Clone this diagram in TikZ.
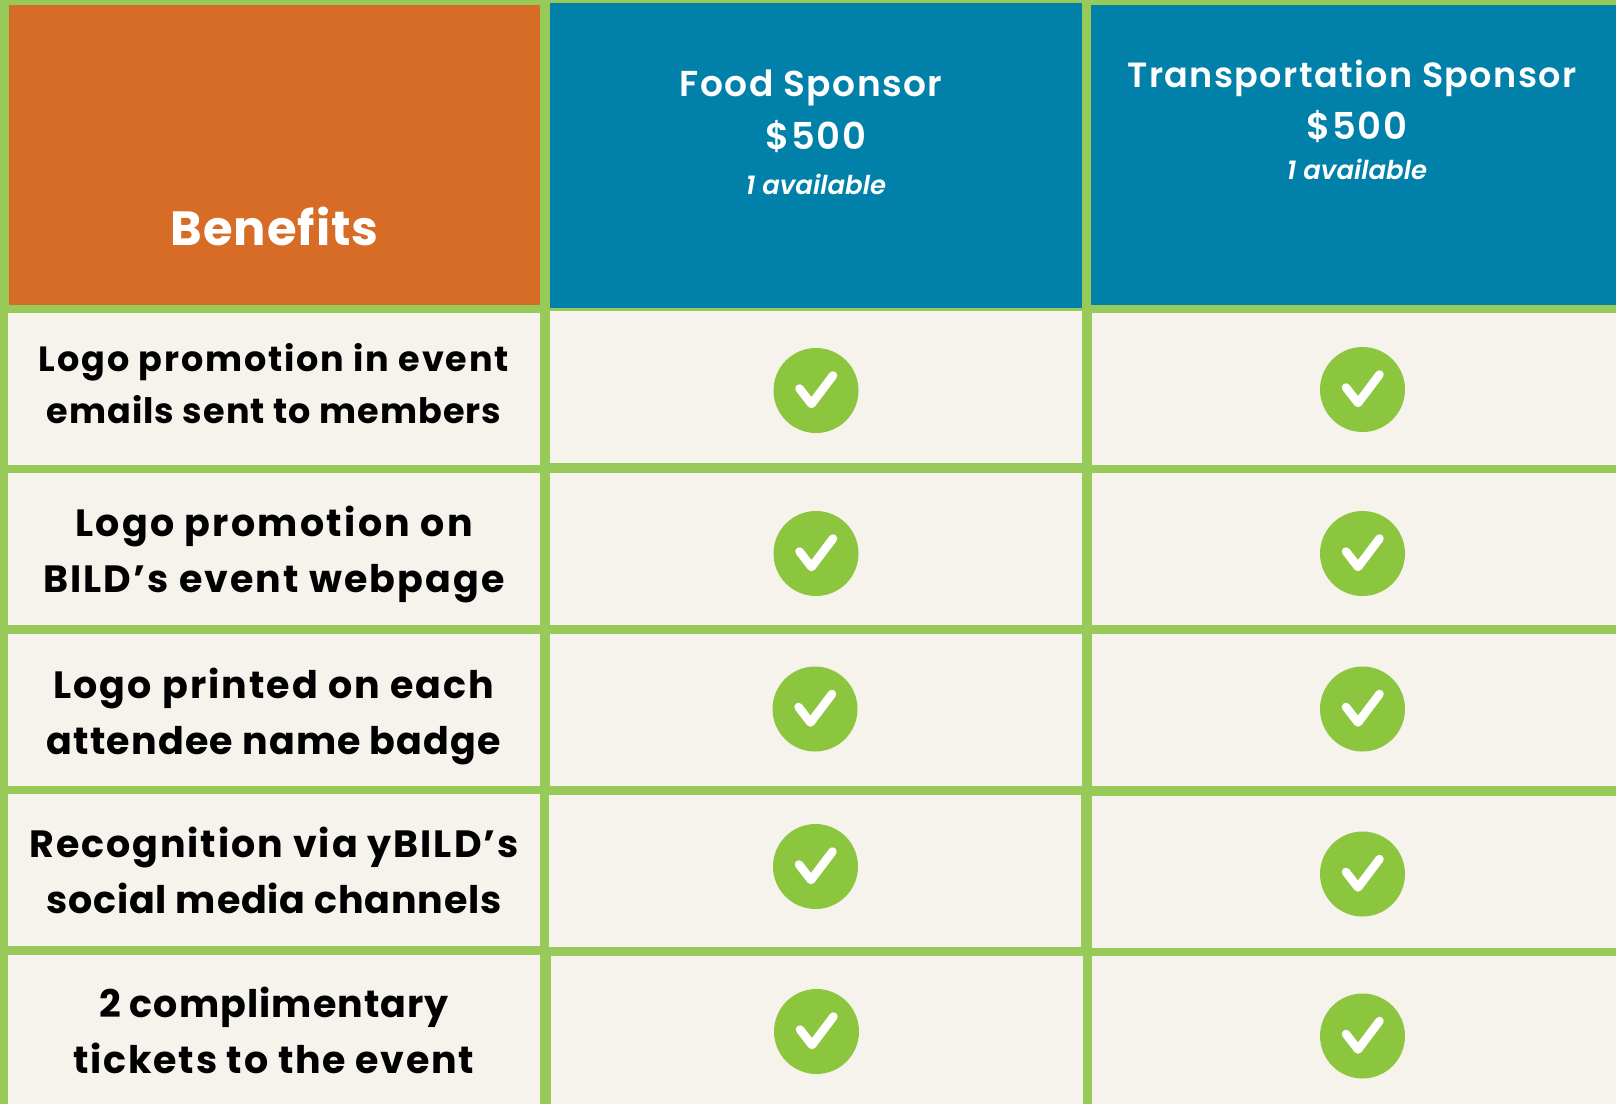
\documentclass[tikz,border=0pt]{standalone}
\usepackage{fontspec}
\setmainfont{Poppins}[BoldFont={Poppins SemiBold},ItalicFont={Poppins Italic},BoldItalicFont={Poppins SemiBold Italic}]
\newfontfamily\rowfont{Poppins Bold}
\newfontfamily\headfont[LetterSpace=4]{Poppins SemiBold}
\newfontfamily\benefitfont[LetterSpace=2.2]{Poppins Bold}
\newcommand{\ls}[1]{\addfontfeature{LetterSpace=#1}}
\definecolor{gridgreen}{HTML}{97CA58}
\definecolor{tickgreen}{HTML}{8CC63F}
\definecolor{cellcream}{HTML}{F5F3EC}
\definecolor{headorange}{HTML}{D76C27}
\definecolor{headblue}{HTML}{0181A9}
\tikzset{
  x=1pt,y=-1pt,
  cellbox/.style={fill=cellcream,draw=none},
  orangebox/.style={fill=headorange,draw=none},
  bluebox/.style={fill=headblue,draw=none},
  rowlabel/.style={align=center,font=\fontsize{38}{55.5}\rowfont,text=black,inner sep=0pt},
  headlabel/.style={align=center,text=white,inner sep=0pt},
  tickdisc/.style={circle,fill=tickgreen,draw=none,minimum size=85pt,inner sep=0pt},
  tickmark/.style={draw=white,line width=8.5pt,line cap=round,line join=round},
}
\newcommand{\tick}[3]{%
  \node[tickdisc] (#1) at (#2,#3) {};
  \draw[tickmark] ([shift={(-16.5,-2)}]#1.center) -- ([shift={(-4.5,13.5)}]#1.center) -- ([shift={(17,-15)}]#1.center);
}
\begin{document}
\begin{tikzpicture}
\useasboundingbox (0,0) rectangle (1616,1104);
\fill[gridgreen] (0,0) rectangle (1616,1104);
% header
\fill[orangebox] (9,5) rectangle (540,305);
\fill[bluebox] (550,3) rectangle (1082,308);
\fill[bluebox] (1091,5) rectangle (1616,305);
% col 1
\fill[cellbox] (8,313) rectangle (540,465);
\fill[cellbox] (8,473) rectangle (540,625);
\fill[cellbox] (8,634) rectangle (540,786);
\fill[cellbox] (8,794) rectangle (540,946);
\fill[cellbox] (8,955) rectangle (540,1104);
% col 2
\fill[cellbox] (550,311) rectangle (1082,463);
\fill[cellbox] (550,473) rectangle (1082,625);
\fill[cellbox] (550,634) rectangle (1082,786);
\fill[cellbox] (549,795) rectangle (1081,947);
\fill[cellbox] (551,956) rectangle (1083,1104);
% col 3
\fill[cellbox] (1092,313) rectangle (1616,465);
\fill[cellbox] (1092,473) rectangle (1616,625);
\fill[cellbox] (1092,634) rectangle (1616,786);
\fill[cellbox] (1092,796) rectangle (1616,948);
\fill[cellbox] (1092,956) rectangle (1616,1104);
% header text
\node[headlabel,font=\fontsize{48}{48}\benefitfont] (benefits) at (274.5,226) {Benefits};
\node[headlabel,font=\fontsize{36}{36}\headfont] (food) at (811,88) {Food Sponsor};
\node[headlabel,font=\fontsize{37}{37}\headfont] (foodprice) at (816,137) {\$500};
\node[headlabel,font=\fontsize{26}{26}\selectfont\bfseries\itshape] (foodavail) at (816,184) {1 available};
\node[headlabel,font=\fontsize{35}{35}\headfont] (trans) at (1352,78) {Transportation Sponsor};
\node[headlabel,font=\fontsize{37}{37}\headfont] (transprice) at (1357,127) {\$500};
\node[headlabel,font=\fontsize{26}{26}\selectfont\bfseries\itshape] (transavail) at (1357,169) {1 available};
% row text
\node[rowlabel,font=\fontsize{35}{52}\rowfont] (r1) at (274,384) {\ls{5.3}Logo promotion in event\\\ls{3}emails sent to members};
\node[rowlabel] (r2) at (274,554.5) {\ls{6}Logo promotion on\\\ls{5.5}BILD’s event webpage};
\node[rowlabel] (r3) at (274,716.5) {\ls{5.5}Logo printed on each\\\ls{3}attendee name badge};
\node[rowlabel] (r4) at (274,870.5) {\ls{5.1}Recognition via yBILD’s\\\ls{2.1}social media channels};
\node[rowlabel] (r5) at (274,1030.5) {\ls{2.7}2 complimentary\\\ls{4.5}tickets to the event};
% ticks
\tick{a}{816}{390.5}
\tick{b}{816}{553.5}
\tick{c}{815}{709}
\tick{d}{815.5}{866.5}
\tick{e}{816.5}{1031.5}
\tick{f}{1362.5}{389.5}
\tick{g}{1362.5}{553.5}
\tick{h}{1362.5}{709}
\tick{i}{1362.5}{874}
\tick{j}{1362.5}{1036}
\end{tikzpicture}
\end{document}
